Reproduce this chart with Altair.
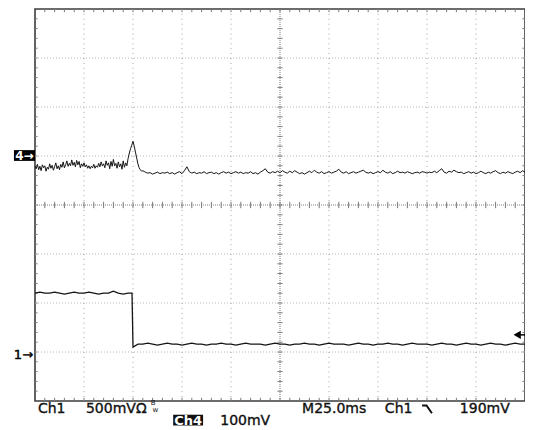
import altair as alt
import pandas as pd

# ---- traces (divisions: x 0..10, y -4..4, 0 = screen centre) ----
# Ch4, fine samples before/through the glitch (step 0.025 div from 0 to 2.2)
ch4_pre_v = [0.80, 0.74, 0.83, 0.72, 0.79, 0.70, 0.82, 0.76, 0.80, 0.69,
             0.77, 0.73, 0.84, 0.75, 0.81, 0.71, 0.78, 0.86, 0.74, 0.80,
             0.72, 0.83, 0.77, 0.88, 0.76, 0.82, 0.90, 0.79, 0.85, 0.80,
             0.92, 0.81, 0.87, 0.78, 0.91, 0.82, 0.89, 0.76, 0.84, 0.79,
             0.86, 0.78, 0.82, 0.75, 0.80, 0.74, 0.79, 0.76, 0.83, 0.75,
             0.80, 0.77, 0.85, 0.78, 0.88, 0.80, 0.84, 0.76, 0.90, 0.81,
             0.86, 0.74, 0.89, 0.79, 0.93, 0.80, 0.85, 0.75, 0.88, 0.78,
             0.84, 0.73, 0.90, 0.77, 0.86, 0.80, 0.95, 1.06, 1.15, 1.22,
             1.30, 1.20, 1.08, 0.96, 0.84, 0.76, 0.72, 0.69, 0.70]
ch4_pre_t = [round(i * 0.025, 3) for i in range(len(ch4_pre_v))]
# Ch4 after the glitch (step 0.05 div from 2.25)
ch4_post_v = [0.67, 0.65, 0.66, 0.63, 0.65, 0.67, 0.64, 0.66, 0.65, 0.67,
              0.64, 0.66, 0.63, 0.66, 0.68, 0.64, 0.70, 0.78, 0.68, 0.65,
              0.67, 0.64, 0.66, 0.65, 0.68, 0.64, 0.66, 0.67, 0.64, 0.66,
              0.63, 0.66, 0.68, 0.65, 0.67, 0.64, 0.66, 0.68, 0.65, 0.67,
              0.64, 0.66, 0.65, 0.68, 0.64, 0.66, 0.63, 0.67, 0.70, 0.74,
              0.67, 0.65, 0.68, 0.66, 0.69, 0.66, 0.70, 0.67, 0.65, 0.69,
              0.66, 0.70, 0.67, 0.64, 0.66, 0.63, 0.66, 0.69, 0.66, 0.71,
              0.67, 0.65, 0.68, 0.64, 0.66, 0.68, 0.65, 0.67, 0.69, 0.73,
              0.67, 0.65, 0.68, 0.64, 0.66, 0.68, 0.65, 0.67, 0.69, 0.71,
              0.67, 0.65, 0.67, 0.64, 0.66, 0.68, 0.66, 0.71, 0.67, 0.65,
              0.68, 0.64, 0.66, 0.69, 0.66, 0.67, 0.65, 0.68, 0.66, 0.64,
              0.66, 0.67, 0.65, 0.68, 0.67, 0.65, 0.67, 0.66, 0.69, 0.66,
              0.70, 0.74, 0.67, 0.65, 0.69, 0.67, 0.71, 0.68, 0.66, 0.67,
              0.64, 0.66, 0.68, 0.65, 0.67, 0.64, 0.66, 0.69, 0.66, 0.64,
              0.67, 0.65, 0.68, 0.70, 0.66, 0.64, 0.67, 0.65, 0.68, 0.66,
              0.64, 0.67, 0.69, 0.66, 0.70, 0.67]
ch4_post_t = [round(2.25 + i * 0.05, 3) for i in range(len(ch4_post_v))]

ch1_t = ([round(i * 0.1, 2) for i in range(20)] + [1.98, 2.0]
         + [round(2.1 + i * 0.1, 2) for i in range(80)])
ch1_v = ([-1.80, -1.78, -1.80, -1.80, -1.78, -1.80, -1.82, -1.80, -1.78, -1.80,
          -1.80, -1.78, -1.80, -1.82, -1.80, -1.80, -1.76, -1.80, -1.82, -1.80,
          -1.80, -2.90]
         + [-2.84, -2.84, -2.82, -2.84, -2.86, -2.84, -2.82, -2.84, -2.84, -2.86,
            -2.84, -2.82, -2.84, -2.84, -2.86, -2.84, -2.84, -2.82, -2.84, -2.84,
            -2.86, -2.84, -2.82, -2.84, -2.84, -2.84, -2.86, -2.84, -2.82, -2.84,
            -2.84, -2.86, -2.84, -2.84, -2.82, -2.84, -2.84, -2.86, -2.84, -2.82,
            -2.84, -2.84, -2.84, -2.86, -2.84, -2.82, -2.84, -2.84, -2.86, -2.84,
            -2.84, -2.82, -2.84, -2.84, -2.86, -2.84, -2.82, -2.84, -2.84, -2.84,
            -2.86, -2.84, -2.82, -2.84, -2.84, -2.86, -2.84, -2.82, -2.84, -2.84,
            -2.86, -2.84, -2.82, -2.84, -2.84, -2.86, -2.84, -2.82, -2.84, -2.84])

# markers / readout
ch4_marker_level = 1.0
ch1_marker_level = -3.06
trigger_level = -2.65
row1_y = -4.245
row2_y = -4.48
readout_row1 = [("Ch1", 0.06), ("500mVΩ", 1.04), ("M25.0ms", 5.45), ("Ch1", 7.14), ("190mV", 8.67)]
readout_row2 = [("100mV", 3.78)]
slope_glyph_x = [7.90, 7.99, 8.10]
slope_glyph_y = [-4.09, -4.09, -4.25]

# graticule
grid_x = [1, 2, 3, 4, 6, 7, 8, 9]
grid_y = [-3, -2, -1, 1, 2, 3]

xs = alt.Scale(domain=[0, 10], nice=False, zero=False)
ys = alt.Scale(domain=[-4, 4], nice=False, zero=False)


def X(f="x"):
    return alt.X(f, type="quantitative", scale=xs, axis=None)


def Y(f="y"):
    return alt.Y(f, type="quantitative", scale=ys, axis=None)


# ---- graticule layers ----
vgrid = alt.Chart(pd.DataFrame({"x": grid_x})).mark_rule(
    color="#a0a0a0", strokeWidth=1, strokeDash=[1, 3.9]
).encode(x=X(), y=alt.value(0), y2=alt.value(392))

hgrid = alt.Chart(pd.DataFrame({"y": grid_y})).mark_rule(
    color="#b8b8b8", strokeWidth=1, strokeDash=[1, 2]
).encode(y=Y(), x=alt.value(0), x2=alt.value(490))

center = alt.Chart(pd.DataFrame({"x": [5, 0], "y": [-4, 0], "x2": [5, 10], "y2": [4, 0]})).mark_rule(
    color="#808080", strokeWidth=1, strokeDash=[1, 1]
).encode(x=X(), y=Y(), x2="x2:Q", y2="y2:Q")

L = 0.065
tick_rows = []
for i in range(1, 50):
    t = round(i * 0.2, 2)
    tick_rows.append((t, 4, t, 4 - L))        # top
    tick_rows.append((t, -4, t, -4 + L))      # bottom
    tick_rows.append((t, -L, t, L))           # centre horizontal
for i in range(1, 40):
    t = round(-4 + i * 0.2, 2)
    tick_rows.append((0, t, L * 0.8, t))      # left
    tick_rows.append((10, t, 10 - L * 0.8, t))  # right
    tick_rows.append((5 - L * 0.8, t, 5 + L * 0.8, t))  # centre vertical
ticks_df = pd.DataFrame(tick_rows, columns=["x", "y", "x2", "y2"])
ticks = alt.Chart(ticks_df).mark_rule(color="#7a7a7a", strokeWidth=1).encode(
    x=X(), y=Y(), x2="x2:Q", y2="y2:Q")

# ---- traces ----
ch4_df = pd.DataFrame({"x": ch4_pre_t + ch4_post_t, "y": ch4_pre_v + ch4_post_v})
ch4 = alt.Chart(ch4_df).mark_line(color="#151515", strokeWidth=1.0).encode(x=X(), y=Y())

ch1_df = pd.DataFrame({"x": ch1_t, "y": ch1_v})
ch1 = alt.Chart(ch1_df).mark_line(color="#151515", strokeWidth=1.3).encode(x=X(), y=Y())

# ---- markers ----
m4_box = alt.Chart(pd.DataFrame({"x": [-0.43], "x2": [0.0],
                                 "y": [ch4_marker_level + 0.12], "y2": [ch4_marker_level - 0.1]})).mark_rect(
    color="#000000").encode(x=X(), x2="x2:Q", y=Y(), y2="y2:Q")
m4_txt = alt.Chart(pd.DataFrame({"x": [-0.215], "y": [ch4_marker_level], "t": ["4→"]})).mark_text(
    color="white", font="DejaVu Sans", fontWeight="bold", fontSize=12, align="center", baseline="middle"
).encode(x=X(), y=Y(), text="t:N")
m1_txt = alt.Chart(pd.DataFrame({"x": [-0.04], "y": [ch1_marker_level], "t": ["1→"]})).mark_text(
    color="black", font="DejaVu Sans", fontSize=13, stroke="black", strokeWidth=0.4,
    align="right", baseline="middle"
).encode(x=X(), y=Y(), text="t:N")
trig_head = alt.Chart(pd.DataFrame({"x": [9.84], "y": [trigger_level]})).mark_point(
    shape="triangle-left", filled=True, color="black", size=70, opacity=1).encode(x=X(), y=Y())
trig_tail = alt.Chart(pd.DataFrame({"x": [9.84], "x2": [10.0], "y": [trigger_level]})).mark_rule(
    color="black", strokeWidth=1.5).encode(x=X(), x2="x2:Q", y=Y())

# ---- readout ----
tstyle = dict(font="DejaVu Sans", fontSize=14, color="#111", stroke="#111", strokeWidth=0.35,
              align="left", baseline="alphabetic")
r1 = pd.DataFrame({"t": [r[0] for r in readout_row1], "x": [r[1] for r in readout_row1], "y": row1_y})
row1 = alt.Chart(r1).mark_text(**tstyle).encode(x=X(), y=Y(), text="t:N")
bw = alt.Chart(pd.DataFrame({"x": [2.36, 2.40], "y": [row1_y + 0.17, row1_y + 0.03], "t": ["B", "w"]})).mark_text(
    font="DejaVu Sans", fontSize=7, color="#111", align="left", baseline="alphabetic").encode(
    x=X(), y=Y(), text="t:N")
slope = alt.Chart(pd.DataFrame({"x": slope_glyph_x, "y": slope_glyph_y, "o": [0, 1, 2]})).mark_line(
    color="#111", strokeWidth=2).encode(x=X(), y=Y(), order="o:Q")
ch4_box = alt.Chart(pd.DataFrame({"x": [2.82], "x2": [3.43], "y": [row2_y + 0.20], "y2": [row2_y - 0.02]})).mark_rect(
    color="#111").encode(x=X(), x2="x2:Q", y=Y(), y2="y2:Q")
ch4_lbl = alt.Chart(pd.DataFrame({"x": [3.125], "y": [row2_y], "t": ["Ch4"]})).mark_text(
    font="DejaVu Sans", fontSize=13, fontWeight="bold", color="white", align="center",
    baseline="alphabetic").encode(x=X(), y=Y(), text="t:N")
r2 = pd.DataFrame({"t": [r[0] for r in readout_row2], "x": [r[1] for r in readout_row2], "y": row2_y})
row2 = alt.Chart(r2).mark_text(**tstyle).encode(x=X(), y=Y(), text="t:N")

chart = alt.layer(
    hgrid, vgrid, center, ticks, ch4, ch1, m4_box, m4_txt, m1_txt, trig_head, trig_tail,
    row1, bw, slope, ch4_box, ch4_lbl, row2
).properties(
    width=490, height=392,
    autosize=alt.AutoSizeParams(type="none"),
    padding={"left": 27, "top": 1, "right": 0, "bottom": 28},
    background="white",
).configure_view(stroke="#3c3c3c", strokeWidth=1.6)

chart.save("out.html", embed_options={"renderer": "svg", "actions": False})
